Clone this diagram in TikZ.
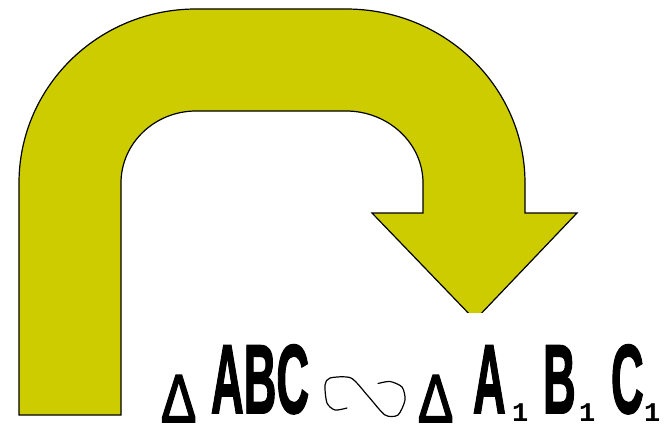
\documentclass[tikz,border=0pt]{standalone}
\usepackage{fontspec}
\usepackage{graphicx}
\setmainfont{Liberation Sans}
\newfontfamily\heavy{Liberation Sans Bold}[FakeBold=2]
\newfontfamily\trif{Liberation Sans}[FakeBold=2.5]
\newfontfamily\monof{Liberation Mono Bold}
\definecolor{arrowfill}{HTML}{CCCC00}
\newcommand\mytri{\smash{\trif\fontsize{68}{70}\selectfont\scalebox{0.78}[1]{Δ}}}
\newcommand\mycap[1]{\smash{\heavy\fontsize{97.8}{100}\selectfont\scalebox{0.463}[1]{#1}}}
\newcommand\mysub{\smash{\monof\fontsize{27}{28}\selectfont 1}}
\begin{document}
\begin{tikzpicture}[x=1pt,y=-1pt,
  lbl/.style={inner sep=0pt,outer sep=0pt,anchor=base west},
  arrowshape/.style={fill=arrowfill,draw=black,line width=1.2pt,line join=miter},
  simline/.style={draw=black,line width=1.2pt,line cap=round,line join=round}]
\useasboundingbox (0,0) rectangle (664,428);
\fill[white] (0,0) rectangle (664,428);
% bent arrow
\draw[arrowshape] (19,415) -- (19,183)
  .. controls (19,87) and (98,9) .. (196,9) -- (346,9)
  .. controls (445,9) and (525,87) .. (525,183)
  -- (525,213) -- (577,213) -- (475,320) -- (372,213) -- (423,213) -- (423,183)
  .. controls (423,143) and (388,111) .. (346,111) -- (196,111)
  .. controls (155,111) and (121,143) .. (121,183) -- (121,415) -- cycle;
% white background of the formula
\fill[white] (150,313) rectangle (664,428);
% formula
\node[lbl] (t1) at (161,422) {\mytri};
\node[lbl] (abc) at (211,413) {\mycap{ABC}};
\draw[simline] plot[smooth,tension=0.45] coordinates {(347,408) (335,410) (327,403) (325,385) (330,378) (351,378) (368,396) (385,415) (398,415) (405,400) (402,387) (390,381.5) (378,383.5)};
\node[lbl] (t2) at (418,422) {\mytri};
\node[lbl] (a1) at (473,413) {\mycap{A}};
\node[lbl] (s1) at (512,421) {\mysub};
\node[lbl] (b1) at (543,413) {\mycap{B}};
\node[lbl] (s2) at (579,421) {\mysub};
\node[lbl] (c1) at (611,413) {\mycap{C}};
\node[lbl] (s3) at (644,421) {\mysub};
\end{tikzpicture}
\end{document}
